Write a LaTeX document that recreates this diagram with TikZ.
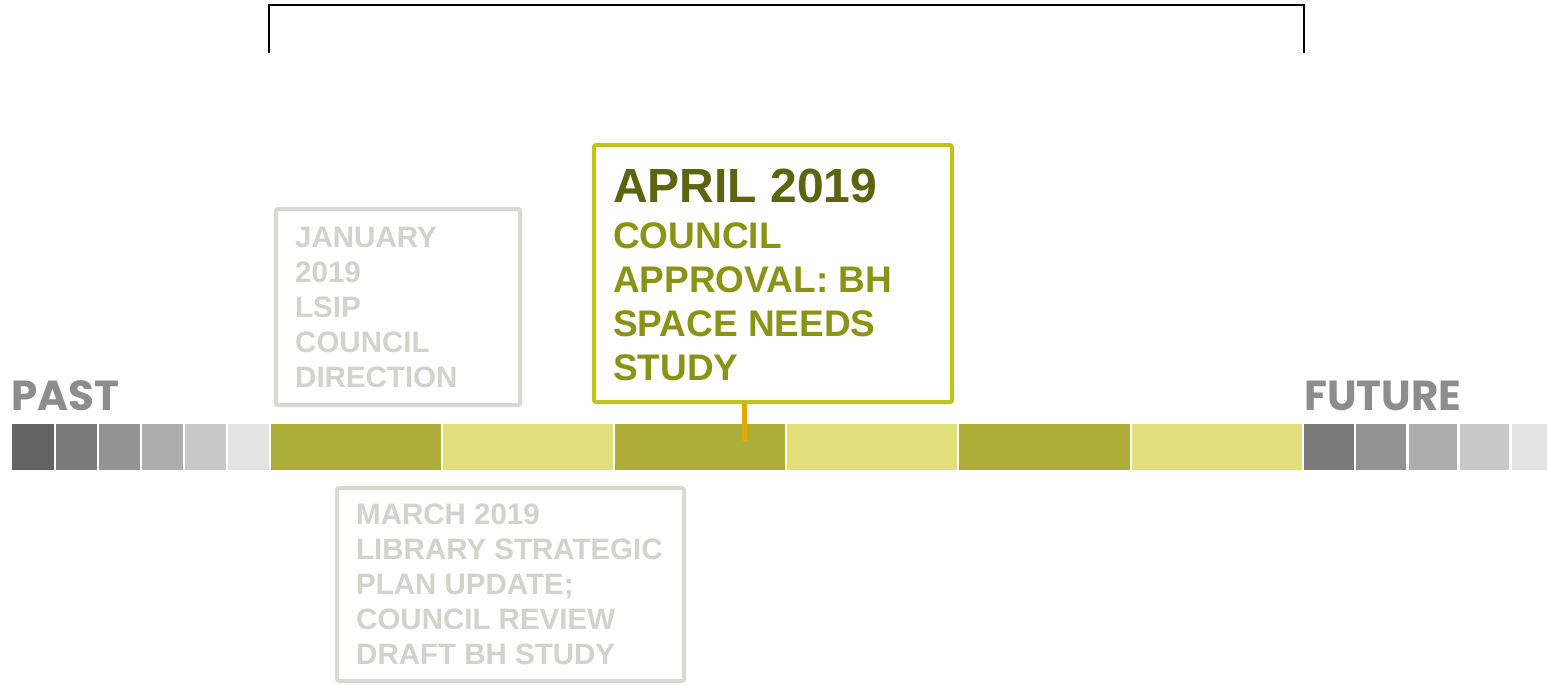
\documentclass[tikz,border=0pt]{standalone}
\usepackage{fontspec}
\setmainfont{Liberation Sans}
\newfontfamily\headfont{Poppins}
\definecolor{gA}{HTML}{636363}
\definecolor{gB}{HTML}{7A7A7A}
\definecolor{gC}{HTML}{939393}
\definecolor{gD}{HTML}{ADADAD}
\definecolor{gE}{HTML}{C8C8C8}
\definecolor{gF}{HTML}{E3E3E3}
\definecolor{olvDark}{HTML}{ADAE38}
\definecolor{olvLight}{HTML}{E2E07B}
\definecolor{fadeText}{HTML}{D2D2CE}
\definecolor{fadeLine}{HTML}{D8D8D4}
\definecolor{actLine}{HTML}{BFC41B}
\definecolor{actHead}{HTML}{5D6410}
\definecolor{actText}{HTML}{8A9313}
\definecolor{tickCol}{HTML}{E0AA00}
\definecolor{labelGray}{HTML}{8D8D8D}
\begin{document}
\begin{tikzpicture}[x=1pt,y=-1pt,
  fadebox/.style={draw=fadeLine,line width=4pt,rounded corners=2pt},
  actbox/.style={draw=actLine,line width=4pt,rounded corners=2pt,outer sep=0pt},
  fadetext/.style={anchor=north west,inner sep=0pt,align=left,text=fadeText,font=\fontsize{29.5}{35}\selectfont\bfseries},
  endlabel/.style={anchor=base west,inner sep=0pt,text=labelGray,font=\headfont\fontsize{42}{42}\selectfont\bfseries}
]
\useasboundingbox (0,0) rectangle (1547,685);
\fill[white] (0,0) rectangle (1547,685);
% bracket
\coordinate (bl) at (269,53);
\coordinate (br) at (1304,53);
\draw[line width=2.4pt] (bl) -- (269,5) -- (1304,5) -- (br);
% left grays
\fill[gA] (12,424) rectangle (54,470);
\fill[gB] (56,424) rectangle (97,470);
\fill[gC] (99,424) rectangle (140,470);
\fill[gD] (142,424) rectangle (183,470);
\fill[gE] (185,424) rectangle (226,470);
\fill[gF] (228,424) rectangle (269,470);
% green segments
\fill[olvDark] (271,424) rectangle (441,470);
\fill[olvLight] (443,424) rectangle (613,470);
\fill[olvDark] (615,424) rectangle (785,470);
\fill[olvLight] (787,424) rectangle (957,470);
\fill[olvDark] (959,424) rectangle (1130,470);
\fill[olvLight] (1132,424) rectangle (1302,470);
% right grays
\fill[gB] (1304,424) rectangle (1354,470);
\fill[gC] (1356,424) rectangle (1406,470);
\fill[gD] (1409,424) rectangle (1457,470);
\fill[gE] (1460,424) rectangle (1509,470);
\fill[gF] (1512,424) rectangle (1547,470);
% end labels
\node[endlabel] (past) at (11,410) {PAST};
\node[endlabel] (future) at (1304,410) {FUTURE};
% January box
\draw[fadebox] (276,209) rectangle (520,405);
\node[fadetext] (jan) at (295,227) {JANUARY\\2019\\LSIP\\COUNCIL\\DIRECTION};
% March box
\draw[fadebox] (337,488) rectangle (684,681);
\node[fadetext] (mar) at (356,504) {MARCH 2019\\LIBRARY STRATEGIC\\PLAN UPDATE;\\COUNCIL REVIEW\\DRAFT BH STUDY};
% April box
\node[actbox,anchor=north west,minimum width=358pt,minimum height=257pt,inner sep=0pt] (apr) at (594,145) {};
\node[anchor=base west,inner sep=0pt,text=actHead,font=\fontsize{48}{48}\selectfont\bfseries] (aprhead) at (613,202) {APRIL 2019};
\node[anchor=north west,inner sep=0pt,align=left,text=actText,font=\fontsize{37}{44}\selectfont\bfseries] (aprtext) at (613,222) {COUNCIL\\APPROVAL: BH\\SPACE NEEDS\\STUDY};
% tick
\coordinate (tick) at (744,441);
\draw[tickCol,line width=5pt] (tick |- apr.south) -- (tick);
\end{tikzpicture}
\end{document}
